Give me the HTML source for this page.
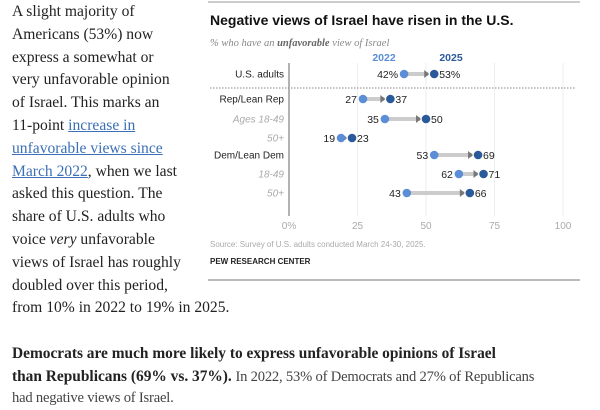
<!DOCTYPE html>
<html><head><meta charset="utf-8"><style>
body{margin:0;width:600px;height:410px;background:#fff;overflow:hidden;position:relative;font-family:"Liberation Serif",serif;}
.left{position:absolute;left:12px;top:1px;width:200px;font-size:15.6px;line-height:22.8px;color:#222;white-space:nowrap;}
.left a{color:#3b6fb6;text-decoration:underline;}
.bottom{position:absolute;left:12px;top:343px;width:590px;font-size:14.6px;line-height:21.5px;color:#222;white-space:nowrap;}
.bottom b{font-size:15.4px;color:#222}
.bottom span{color:#444;letter-spacing:-0.2px}
svg{position:absolute;left:0;top:0}
</style></head><body>
<div class="left">A slight majority of<br>Americans (53%) now<br>express a somewhat or<br>very unfavorable opinion<br>of Israel. This marks an<br>11-point <a href="#">increase in</a><br><a href="#">unfavorable views since</a><br><a href="#">March 2022</a>, when we last<br>asked this question. The<br>share of U.S. adults who<br>voice <i>very</i> unfavorable<br>views of Israel has roughly<br>doubled over this period,<br>from 10% in 2022 to 19% in 2025.</div>
<div class="bottom"><b>Democrats are much more likely to express unfavorable opinions of Israel<br>than Republicans (69% vs. 37%).</b> <span>In 2022, 53% of Democrats and 27% of Republicans<br>had negative views of Israel.</span></div>
<svg id="chart" width="600" height="410" font-family="Liberation Sans, sans-serif"></svg>
<script>
const categories=["U.S. adults","Rep/Lean Rep","Ages 18-49","50+","Dem/Lean Dem","18-49","50+"];
const sub=[false,false,true,true,false,true,true];
const v2022=[42,27,35,19,53,62,43];
const v2025=[53,37,50,23,69,71,66];
const ticks=[0,25,50,75,100];
const tickLabels=["0%","25","50","75","100"];
const rowY=[74,99,119,138,155,174,193];
const NS="http://www.w3.org/2000/svg";
const svg=document.getElementById('chart');
const x=v=>289+v*2.74;
function el(t,a,txt){const e=document.createElementNS(NS,t);for(const k in a)e.setAttribute(k,a[k]);if(txt!==undefined)e.textContent=txt;svg.appendChild(e);return e;}
let e;
e=el('line',{x1:208,x2:580,y1:2,y2:2,stroke:'#999','stroke-width':1});
e=el('text',{x:210,y:25,'font-size':14,'font-weight':'bold',fill:'#111'},'Negative views of Israel have risen in the U.S.');
e=el('text',{x:210,y:46,'font-size':10.5,'font-style':'italic',fill:'#888','font-family':'Liberation Serif, serif'});e.innerHTML='% who have an <tspan font-weight="bold" fill="#666">unfavorable</tspan> view of Israel';
e=el('text',{x:384,y:61,'font-size':10.5,'font-weight':'bold',fill:'#5b8ed6','text-anchor':'middle'},'2022');
e=el('text',{x:451,y:61,'font-size':10.5,'font-weight':'bold',fill:'#2a5a9a','text-anchor':'middle'},'2025');
ticks.forEach((t,i)=>{
 if(i>0){e=el('line',{x1:x(t),x2:x(t),y1:63,y2:216,stroke:'#eee','stroke-width':1});}
 e=el('text',{x:x(t),y:229,'font-size':10,fill:'#aaa','text-anchor':'middle'},tickLabels[i]);
});
e=el('line',{x1:x(0),x2:x(0),y1:63,y2:216,stroke:'#666','stroke-width':1});
e=el('line',{x1:210,x2:575,y1:88,y2:88,stroke:'#888','stroke-width':1,'stroke-dasharray':'1.5,1.5'});
categories.forEach((c,i)=>{
 const y=rowY[i];
 e=el('text',{x:284,y:y+3.5,'font-size':10,fill:sub[i]?'#aaa':'#222','font-style':sub[i]?'italic':'normal','text-anchor':'end'},c);
 const a=x(v2022[i]),b=x(v2025[i]);
 e=el('line',{x1:a,x2:b-6,y1:y,y2:y,stroke:'#ccc','stroke-width':4});
 e=el('polygon',{points:`${b-10},${y-4} ${b-5},${y} ${b-10},${y+4}`,fill:'#777'});
 e=el('circle',{cx:a,cy:y,r:4.3,fill:'#5b8ed6'});
 e=el('circle',{cx:b,cy:y,r:4.3,fill:'#2a5a9a'});
 const pct=i===0?'%':'';
 e=el('text',{x:a-6,y:y+4,'font-size':10.5,fill:'#222','text-anchor':'end'},v2022[i]+pct);
 e=el('text',{x:b+5,y:y+4,'font-size':10.5,fill:'#222'},v2025[i]+pct);
});
e=el('text',{x:210,y:247,'font-size':8,fill:'#aaa'},'Source: Survey of U.S. adults conducted March 24-30, 2025.');
e=el('text',{x:210,y:264,'font-size':8,'font-weight':'bold',fill:'#222'},'PEW RESEARCH CENTER');
e=el('line',{x1:208,x2:580,y1:280,y2:280,stroke:'#777','stroke-width':1});
</script>
</body></html>
